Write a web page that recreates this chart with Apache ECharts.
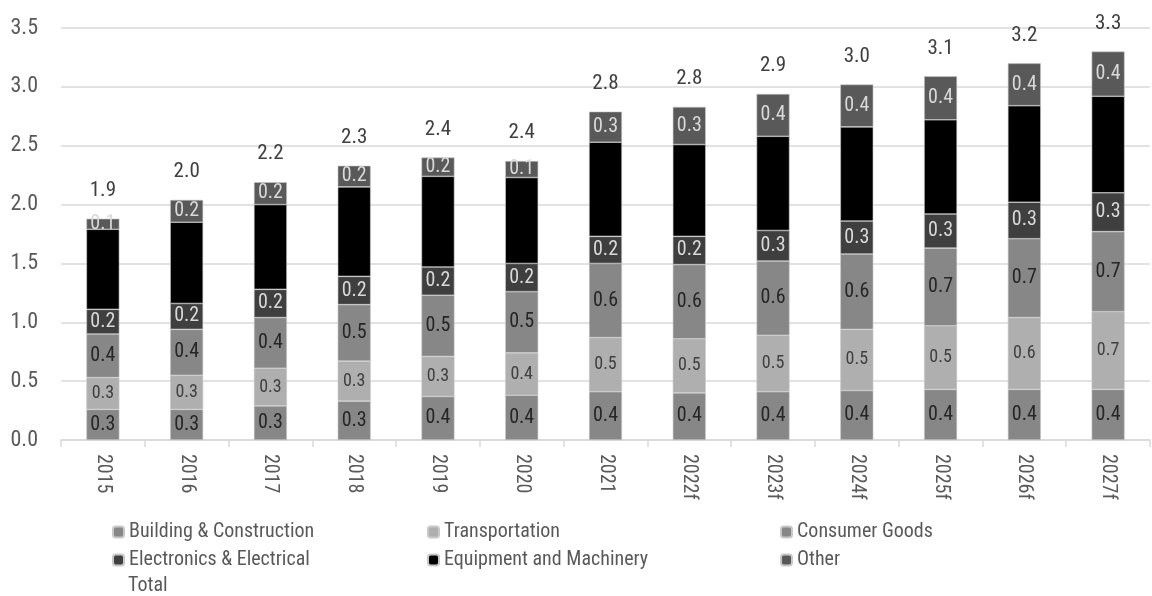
<!DOCTYPE html>
<html>
<head>
<meta charset="utf-8">
<script src="https://cdn.jsdelivr.net/npm/echarts@6/dist/echarts.min.js"></script>
<style>html,body{margin:0;padding:0;background:#fff;}#c{width:1152px;height:596px;}</style>
</head>
<body>
<div id="c"></div>
<script>
const categories = ['2015','2016','2017','2018','2019','2020','2021','2022f','2023f','2024f','2025f','2026f','2027f'];
const building    = [0.26,0.26,0.29,0.33,0.37,0.38,0.41,0.40,0.41,0.42,0.43,0.43,0.43];
const transport   = [0.27,0.29,0.32,0.34,0.34,0.36,0.46,0.46,0.48,0.52,0.54,0.61,0.66];
const consumer    = [0.37,0.39,0.43,0.48,0.52,0.52,0.63,0.63,0.63,0.64,0.66,0.67,0.68];
const electronics = [0.21,0.22,0.24,0.24,0.24,0.24,0.23,0.24,0.26,0.28,0.29,0.31,0.33];
const equipment   = [0.68,0.69,0.72,0.76,0.77,0.73,0.80,0.78,0.80,0.80,0.80,0.82,0.82];
const other       = [0.09,0.19,0.19,0.18,0.16,0.14,0.26,0.32,0.36,0.36,0.37,0.36,0.38];
const yTicks = [0,0.5,1,1.5,2,2.5,3,3.5];

const FONT = "'Liberation Sans Narrow','Roboto Condensed','Roboto',sans-serif";
const totals = categories.map((_, i) =>
  +(building[i] + transport[i] + consumer[i] + electronics[i] + equipment[i] + other[i]).toFixed(3));

function seg(name, data, color, labelColor, labelSize, showLabel) {
  return {
    name, type: 'bar', stack: 'all', data, barWidth: 33,
    itemStyle: { color, borderColor: '#c8c8c8', borderWidth: 0.6 },
    label: {
      show: showLabel, position: 'inside', color: labelColor,
      fontFamily: FONT, fontSize: labelSize,
      formatter: p => p.value.toFixed(1)
    },
    emphasis: { disabled: true }
  };
}

const legendText = { color: '#595959', fontFamily: FONT, fontSize: 20 };
function lg(name, left, center) {
  return {
    data: [name], left, top: center - 10, padding: 0,
    itemWidth: 11, itemHeight: 11, itemGap: 0,
    textStyle: legendText, selectedMode: false
  };
}

const chart = echarts.init(document.getElementById('c'), null, { renderer: 'canvas' });
chart.setOption({
  animation: false,
  backgroundColor: '#fff',
  grid: { left: 61, right: 2, top: 28, bottom: 156, containLabel: false },
  legend: [
    lg('Building & Construction', 112, 532),
    lg('Transportation', 427, 532),
    lg('Consumer Goods', 780, 532),
    lg('Electronics & Electrical', 112, 560),
    lg('Equipment and Machinery', 427, 560),
    lg('Other', 780, 560),
    Object.assign(lg('Total', 112, 586), {
      data: [{ name: 'Total', icon: 'rect', itemStyle: { color: 'rgba(0,0,0,0)', opacity: 0 } }]
    })
  ],
  xAxis: {
    type: 'category', data: categories,
    axisLine: { lineStyle: { color: '#d9d9d9', width: 1.5 } },
    axisTick: { show: true, length: 7, lineStyle: { color: '#d9d9d9', width: 1.5 } },
    axisLabel: { rotate: -90, margin: 14, color: '#595959', fontFamily: FONT, fontSize: 20 }
  },
  yAxis: {
    type: 'value', min: yTicks[0], max: yTicks[yTicks.length - 1], interval: 0.5,
    axisLine: { show: false }, axisTick: { show: false },
    splitLine: { lineStyle: { color: '#d9d9d9', width: 1.5 } },
    axisLabel: { margin: 23, color: '#595959', fontFamily: FONT, fontSize: 22,
      formatter: v => v.toFixed(1) }
  },
  series: [
    seg('Building & Construction', building, '#878787', '#262626', 20, true),
    seg('Transportation', transport, '#afafaf', '#404040', 18, true),
    seg('Consumer Goods', consumer, '#878787', '#262626', 20, true),
    seg('Electronics & Electrical', electronics, '#3f3f3f', '#d9d9d9', 20, true),
    seg('Equipment and Machinery', equipment, '#000000', '#ffffff', 20, false),
    seg('Other', other, '#595959', '#d9d9d9', 20, true),
    {
      name: 'Total', type: 'line', data: totals,
      symbol: 'circle', symbolSize: 1,
      itemStyle: { color: 'rgba(0,0,0,0)' },
      lineStyle: { width: 0, opacity: 0 },
      label: { show: true, position: 'top', distance: 17, color: '#404040',
        fontFamily: FONT, fontSize: 21, formatter: p => p.value.toFixed(1) },
      emphasis: { disabled: true }, z: 5
    }
  ]
});
</script>
</body>
</html>
